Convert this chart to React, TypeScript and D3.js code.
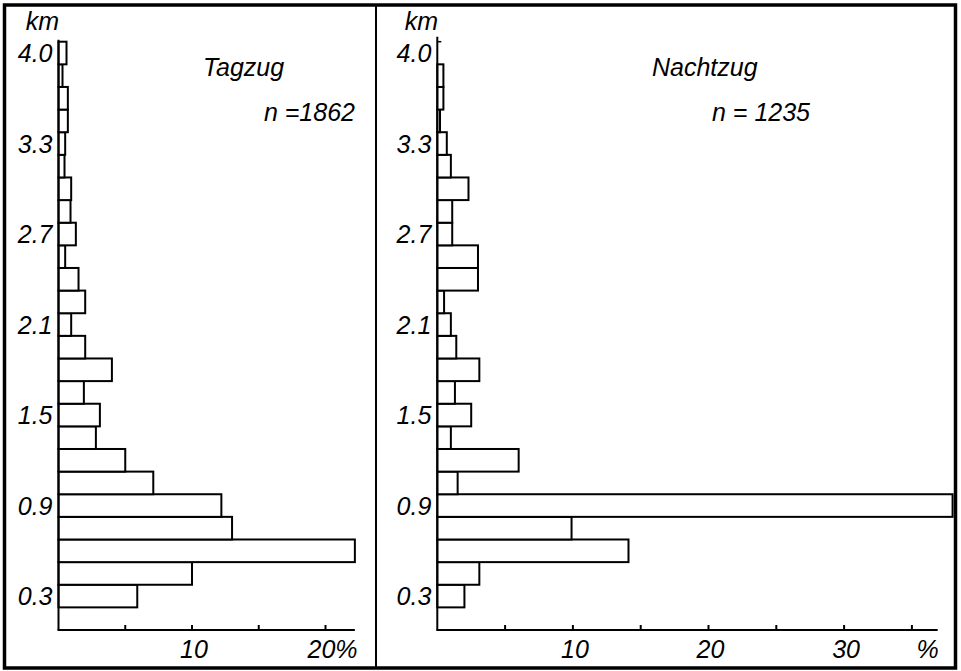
import React from 'react';
import * as d3 from 'd3';

// distance classes, 0.15 km each, from the lowest bin upward
const bins = d3.range(26);
const tickBins = [1, 5, 9, 13, 17, 21, 25];
const tickLabels = ['0.3', '0.9', '1.5', '2.1', '2.7', '3.3', '4.0'];

// percent of birds per distance class
const dayValues = [0, 5.9, 10.0, 22.2, 13.0, 12.2, 7.1, 5.0, 2.8, 3.1, 1.9, 4.0, 2.0,
    0.95, 2.0, 1.5, 0.5, 1.3, 0.9, 0.95, 0.45, 0.5, 0.7, 0.7, 0.3, 0.6];
const nightValues = [0, 2.0, 3.1, 14.1, 9.9, 38.0, 1.5, 6.0, 1.0, 2.5, 1.3, 3.1, 1.4,
    1.0, 0.5, 3.0, 3.0, 1.1, 1.1, 2.3, 1.0, 0.7, 0.2, 0.45, 0.45, 0];

const dayTicks = [5, 10, 15, 20];
const nightTicks = [5, 10, 15, 20, 25, 30, 35];

const font = '"Liberation Sans", Arial, sans-serif';
const fs = 25;

const y = d3.scaleBand<number>().domain(bins).range([630, 41.7]).padding(0);
const bw = y.bandwidth();

function Panel({values, x, ticks, axisEnd, title, n, titleX, nX, pctLabel, topTick}) {
    const x0 = x(0);
    return (
        <g>
            {values.map((v, i) => v > 0 ? (
                <rect key={i} x={x0} y={y(i)} width={x(v) - x0} height={bw}
                      fill="white" stroke="black" strokeWidth={2}/>
            ) : null)}
            {/* y axis */}
            <line x1={x0} x2={x0} y1={y(25) - (topTick ? 5 : 2)} y2={630} stroke="black" strokeWidth={2}/>
            {topTick && <line x1={x0} x2={x0 + 4} y1={y(25)} y2={y(25)} stroke="black" strokeWidth={1.5}/>}
            {/* x axis */}
            <line x1={x0 - 1} x2={x(axisEnd)} y1={630} y2={630} stroke="black" strokeWidth={2}/>
            {ticks.map(t => (
                <line key={t} x1={x(t)} x2={x(t)} y1={630} y2={625} stroke="black" strokeWidth={2}/>
            ))}
            {ticks.filter(t => t % 10 === 0).map(t => (
                t === 20 && pctLabel === 'inline' ? (
                    <text key={t} x={x(t) - 18} y={658} fontSize={fs} fontStyle="italic">{t + '%'}</text>
                ) : (
                    <text key={t} x={x(t) + 2} y={658} fontSize={fs} fontStyle="italic" textAnchor="middle">{t}</text>
                )
            ))}
            {pctLabel === 'end' && (
                <text x={x(axisEnd) - 10} y={658} fontSize={fs} fontStyle="italic" textAnchor="middle">%</text>
            )}
            {tickBins.map((b, i) => (
                <text key={b} x={x0 - 6} y={y(b) + bw / 2 + 9} fontSize={fs} fontStyle="italic"
                      textAnchor="end">{tickLabels[i]}</text>
            ))}
            <text x={x0 - 16} y={30} fontSize={fs} fontStyle="italic" textAnchor="middle">km</text>
            <text x={titleX} y={76} fontSize={fs} fontStyle="italic">{title}</text>
            <text x={nX} y={121} fontSize={fs} fontStyle="italic" textAnchor="end">{n}</text>
        </g>
    );
}

export default function App() {
    const xDay = d3.scaleLinear().domain([0, 20]).range([58.5, 325.5]);
    const xNight = d3.scaleLinear().domain([0, 30]).range([437.3, 844.1]);
    return (
        <div style={{position: 'absolute', left: 0, top: 0}}>
            <svg width={961} height={671} style={{display: 'block', fontFamily: font}}>
                <rect x={0} y={0} width={961} height={671} fill="white"/>
                <rect x={4.5} y={5} width={951} height={663} fill="none" stroke="black" strokeWidth={3.5}/>
                <line x1={376} x2={376} y1={5} y2={668} stroke="black" strokeWidth={2}/>
                <Panel values={dayValues} x={xDay} ticks={dayTicks} axisEnd={22.2}
                       title="Tagzug" n="n =1862" titleX={203} nX={355} pctLabel="inline" topTick={false}/>
                <Panel values={nightValues} x={xNight} ticks={nightTicks} axisEnd={36.9}
                       title="Nachtzug" n="n = 1235" titleX={652} nX={810} pctLabel="end" topTick={true}/>
            </svg>
        </div>
    );
}
